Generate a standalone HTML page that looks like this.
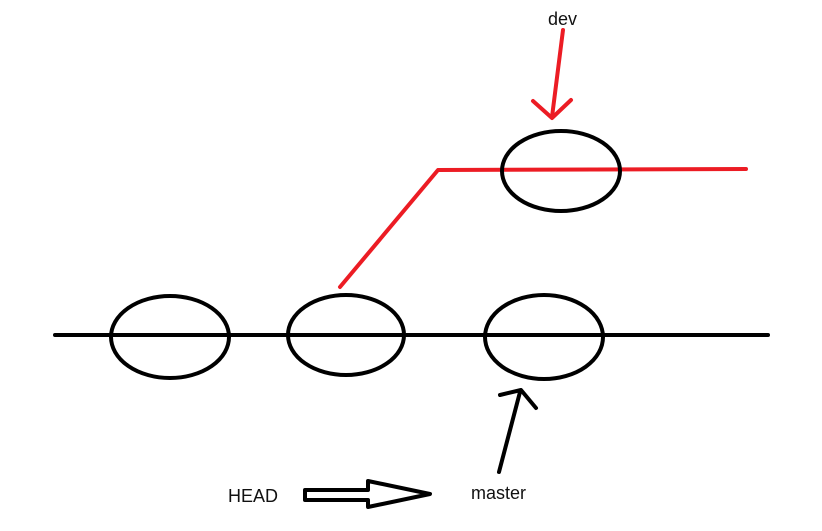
<!DOCTYPE html>
<html><head><style>body{margin:0;background:#fff}svg{display:block}</style></head><body>
<svg width="822" height="531" xmlns="http://www.w3.org/2000/svg">
<rect width="822" height="531" fill="#fff"/>
<g fill="none" stroke-linecap="round" stroke-linejoin="round">
<line x1="55" y1="335" x2="768" y2="335" stroke="#000" stroke-width="4"/>
<polyline points="340,287 438,170 746,169" stroke="#ec1c24" stroke-width="4"/>
<ellipse cx="170" cy="337" rx="59" ry="41" stroke="#000" stroke-width="4"/>
<ellipse cx="346" cy="335" rx="58" ry="40" stroke="#000" stroke-width="4"/>
<ellipse cx="544" cy="337" rx="59" ry="42" stroke="#000" stroke-width="4"/>
<ellipse cx="561" cy="171" rx="59" ry="40" stroke="#000" stroke-width="4"/>
<line x1="563" y1="30" x2="552" y2="117" stroke="#ec1c24" stroke-width="4"/>
<polyline points="533,101 552,118 571,100" stroke="#ec1c24" stroke-width="4"/>
<line x1="499" y1="472" x2="520" y2="392" stroke="#000" stroke-width="4"/>
<polyline points="500,395 521,390 536,408" stroke="#000" stroke-width="4"/>
<polygon points="305,490 368,490 368,481 430,494 368,507 368,500 305,500" stroke="#000" stroke-width="4"/>
</g>
<g font-family="Liberation Sans, sans-serif" font-size="18" fill="#111">
<text x="548" y="25">dev</text>
<text x="228" y="502">HEAD</text>
<text x="471" y="499">master</text>
</g>
</svg>
</body></html>
